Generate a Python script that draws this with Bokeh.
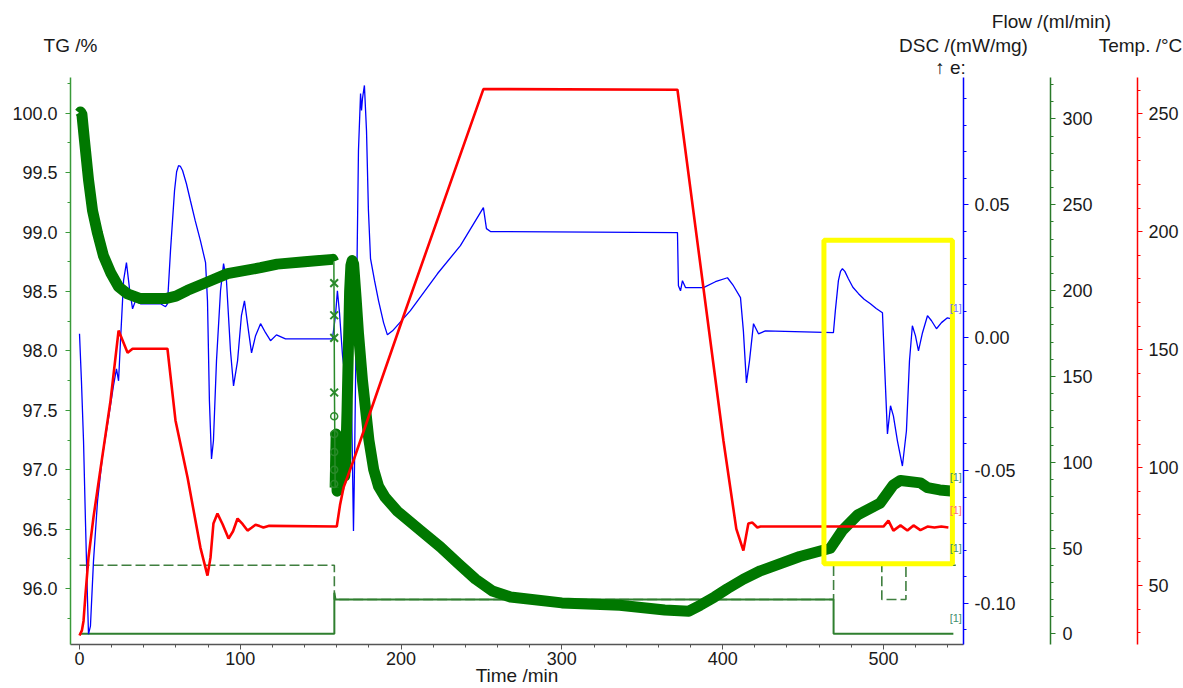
import numpy as np
from bokeh.plotting import figure
from bokeh.layouts import column
from bokeh.models import Range1d, LinearAxis, FixedTicker
from bokeh.core.properties import value
from bokeh.embed import file_html
from bokeh.resources import INLINE

# ---------------- data ----------------
tg_time = [0.0, 0.6, 1.5, 3.1, 5.6, 8.1, 11.2, 14.9, 19.3, 24.3, 29.9, 37.9, 53.5, 60.0,
           67.2, 79.6, 92.0, 112.6, 123.0, 140.0, 157.5, 158.2,
           158.4, 158.6, 159.0,
           159.6, 160.2, 160.8, 161.4, 162.0, 162.6, 163.2, 163.8, 164.4, 165.0, 165.6,
           166.4, 167.2, 168.0, 168.8, 169.6, 170.5, 172.0, 173.5, 176.0, 180.0, 183.0,
           186.0, 190.0, 197.8, 212.0, 224.5, 235.7, 246.3, 256.8, 268.0, 300.0, 336.0,
           364.0, 379.0, 386.0, 395.0, 403.0, 413.0, 423.5, 448.0, 467.0, 474.5, 484.0,
           498.0, 506.0, 510.6, 523.0, 527.4, 535.0, 543.5]
tg_mass = [100.00, 100.01, 99.99, 99.77, 99.44, 99.18, 98.99, 98.80, 98.66, 98.54, 98.48,
           98.44, 98.44, 98.46, 98.51, 98.58, 98.65, 98.70, 98.73, 98.75, 98.77, 98.75,
           98.20, 97.60, 96.85,
           97.30, 96.82, 97.25, 96.85, 97.20, 96.90, 97.10, 96.95, 97.05, 96.95, 97.10,
           97.50, 98.00, 98.50, 98.72, 98.76, 98.73, 98.45, 98.15, 97.75, 97.25, 97.00,
           96.86, 96.77, 96.65, 96.49, 96.35, 96.21, 96.08, 95.98, 95.93, 95.88, 95.86,
           95.82, 95.81, 95.86, 95.93, 96.00, 96.08, 96.15, 96.27, 96.34, 96.49, 96.62,
           96.72, 96.87, 96.91, 96.89, 96.85, 96.83, 96.82]
tg_x_marker_time = [158.4, 158.4, 158.4, 158.4]
tg_x_marker_mass = [98.57, 98.30, 98.11, 97.65]
tg_o_marker_time = [158.4, 158.4, 158.4, 158.4, 158.4]
tg_o_marker_mass = [97.45, 97.30, 97.15, 97.00, 96.88]

dsc_time = [0.0, 1.2, 2.5, 3.7, 5.0, 5.6, 6.8, 8.7, 11.2, 14.3, 18.0, 21.1, 23.0, 24.3,
            25.5, 27.4, 29.2, 31.1, 33.0, 34.8, 37.9, 50.4, 53.5, 54.7, 56.6, 59.1, 60.4,
            61.6, 62.8, 64.1, 66.5, 69.0, 72.0, 75.2, 78.4, 79.6, 80.8, 82.1, 83.3, 85.2,
            87.7, 89.6, 91.4, 93.9, 95.8, 98.3, 100.7, 102.6, 105.1, 107.0, 109.5, 112.6,
            115.7, 118.8, 122.5, 128.1, 157.3, 159.2, 160.4, 161.7, 163.6, 165.4, 167.3,
            169.2, 170.4, 171.0, 172.3, 173.5, 174.8, 175.4, 176.0, 177.2, 178.5, 179.7,
            181.0, 183.5, 186.0, 189.1, 191.5, 194.7, 205.8, 222.6, 236.9, 251.2, 253.1,
            255.6, 371.9, 372.5, 373.8, 375.0, 376.9, 388.1, 395.5, 403.0, 406.7, 411.1,
            412.9, 414.8, 416.7, 419.2, 422.3, 426.6, 468.9, 470.1, 472.0, 473.3, 474.5,
            476.0, 478.2, 481.0, 484.5, 488.0, 491.9, 495.5, 499.4, 500.6, 502.5, 504.4,
            506.2, 508.7, 511.8, 514.3, 516.2, 518.0, 519.9, 521.8, 524.3, 527.4, 529.9,
            533.0, 536.1, 539.8, 541.7]
dsc_val = [0.0015, -0.0162, -0.0388, -0.0690, -0.0992, -0.1116, -0.1086, -0.0841, -0.0615,
           -0.0445, -0.0305, -0.0181, -0.0117, -0.0162, -0.0011, 0.0215, 0.0283, 0.0185,
           0.0109, 0.0139, 0.0128, 0.0128, 0.0117, 0.0128, 0.0328, 0.0554, 0.0625,
           0.0648, 0.0645, 0.0630, 0.0580, 0.0516, 0.0440, 0.0366, 0.0283, 0.0139,
           -0.0238, -0.0456, -0.0388, -0.0087, 0.0177, 0.0279, 0.0215, -0.0049, -0.0181,
           -0.0087, 0.0083, 0.0139, 0.0026, -0.0057, 0.0008, 0.0053, 0.0019, -0.0011,
           0.0011, -0.0004, -0.0004, 0.0083, 0.0177, 0.0094, -0.0068, -0.0155, -0.0124,
           -0.0238, -0.0728, -0.0501, 0.0139, 0.0705, 0.0920, 0.0856, 0.0901, 0.0950,
           0.0780, 0.0479, 0.0298, 0.0215, 0.0139, 0.0057, 0.0011, 0.0026, 0.0102, 0.0241,
           0.0347, 0.0490, 0.0411, 0.0400, 0.0396, 0.0196, 0.0177, 0.0215, 0.0189, 0.0189,
           0.0211, 0.0226, 0.0196, 0.0151, 0.0026, -0.0170, -0.0087, 0.0053, 0.0015,
           0.0026, 0.0019, 0.0102, 0.0215, 0.0250, 0.0260, 0.0250, 0.0222, 0.0190, 0.0166,
           0.0145, 0.0128, 0.0110, 0.0094, -0.0087, -0.0362, -0.0256, -0.0294, -0.0388,
           -0.0483, -0.0351, -0.0087, 0.0045, 0.0008, -0.0049, 0.0019, 0.0083, 0.0064,
           0.0034, 0.0057, 0.0075, 0.0072]

temp_time = [0.0, 1.5, 2.5, 3.7, 5.6, 8.7, 13.1, 19.3, 24.3, 29.9, 33.0, 54.7, 59.7, 67.2,
             75.2, 79.6, 81.5, 83.3, 85.8, 89.0, 92.7, 95.5, 98.3, 101.5, 104.5, 107.0, 109.5,
             112.0, 114.4, 118.0, 160.0, 162.0, 164.2, 170.4, 202.7, 251.2, 371.9, 400.5,
             408.5, 412.9, 416.0, 418.5, 421.6, 423.5, 500.0, 503.1, 506.2, 510.6, 514.9,
             518.7, 523.0, 527.4, 531.7, 536.0, 540.4]
temp_val = [28.8, 31.0, 35.0, 46.0, 62.0, 79.0, 99.6, 128.4, 158.1, 148.7, 150.4, 150.4,
            120.0, 95.8, 66.1, 54.2, 62.0, 76.3, 80.5, 76.0, 69.9, 73.0, 78.4, 76.0, 73.3,
            74.5, 75.8, 75.2, 74.6, 75.3, 75.0, 84.0, 91.5, 103.0, 166.5, 260.5, 260.2,
            111.4, 74.0, 64.8, 76.3, 76.7, 74.6, 75.0, 75.0, 77.5, 73.3, 75.5, 73.3, 75.5,
            73.5, 75.0, 74.6, 75.0, 74.6]

flow1_time = [0.0, 158.5, 158.5, 159.2, 469.0, 469.0, 543.5]
flow1_val = [0.0, 0.0, 24.0, 20.0, 20.0, 0.0, 0.0]
flow2_time = [0.0, 158.5, 158.5, 469.0, 469.0, 499.0, 499.0, 514.0, 514.0, 545.0]
flow2_val = [40.0, 40.0, 20.0, 20.0, 40.0, 40.0, 20.0, 20.0, 40.0, 40.0]

x_ticks = [0, 100, 200, 300, 400, 500]
tg_ticks = [96.0, 96.5, 97.0, 97.5, 98.0, 98.5, 99.0, 99.5, 100.0]
tg_tick_labels = ["96.0", "96.5", "97.0", "97.5", "98.0", "98.5", "99.0", "99.5", "100.0"]
dsc_ticks = [-0.10, -0.05, 0.00, 0.05]
dsc_tick_labels = ["-0.10", "-0.05", "0.00", "0.05"]
flow_ticks = [0, 50, 100, 150, 200, 250, 300]
temp_ticks = [50, 100, 150, 200, 250]

# header titles (text, page x, page y)
header_texts = ["TG /%", "Flow /(ml/min)", "DSC /(mW/mg)", "↑ e:", "Temp. /°C"]
header_px = [70, 1051, 963, 950, 1140]
header_py = [45, 21, 45, 67, 45]

# "[1]" end-of-curve markers (time, TG-scale position)
mark_time = [545.0, 545.0, 545.0, 545.0, 545.0]
mark_tg = [98.36, 96.94, 96.66, 96.34, 95.75]
mark_color = ["#7070ff", "#3f8f6f", "#ff7070", "#3f8f6f", "#3f8f6f"]

# highlight box (time / TG coordinates)
box_time = [463.0, 542.9]
box_tg = [96.21, 98.93]

# ---------------- layout ----------------
W, H = 1183, 688
HEAD = 77
FL, FR, FB = 70, 963, 644
XR = (-5.6, 549.8)
TGR = (95.53, 100.30)
FONT = "Liberation Sans"
LBL = "#1a1a1a"

head = figure(width=W, height=HEAD, x_range=Range1d(0, W), y_range=Range1d(HEAD, 0),
              output_backend="svg", toolbar_location=None, x_axis_type=None,
              y_axis_type=None, min_border=0, outline_line_color=None)
head.xgrid.visible = False
head.ygrid.visible = False
head.text(x=header_px, y=header_py, text=header_texts, text_font=value(FONT),
          text_font_size="19px", text_color=LBL, text_align="center",
          text_baseline="middle")

p = figure(width=W, height=H - HEAD, x_range=Range1d(*XR), y_range=Range1d(*TGR),
           output_backend="svg", toolbar_location=None,
           min_border_left=FL, min_border_right=W - FR, min_border_top=0,
           min_border_bottom=H - FB, background_fill_color="white",
           border_fill_color="white")
for fig in (head, p):
    if "frame_align" in fig.properties():
        fig.frame_align = False
p.xgrid.visible = False
p.ygrid.visible = False
p.outline_line_color = None
p.extra_y_ranges = {"dsc": Range1d(-0.1155, 0.0980),
                    "flow": Range1d(-6.2, 324.1),
                    "temp": Range1d(25.0, 265.4)}


def style(ax, color, ticks, minor, standoff):
    ax.ticker = FixedTicker(ticks=ticks, minor_ticks=minor)
    ax.axis_line_color = color
    ax.axis_line_width = 1.5
    ax.major_tick_line_color = color
    ax.minor_tick_line_color = color
    ax.major_tick_out = 5
    ax.major_tick_in = 0
    ax.minor_tick_out = 3
    ax.minor_tick_in = 0
    ax.major_label_text_font = FONT
    ax.major_label_text_font_size = "18px"
    ax.major_label_text_color = LBL
    ax.major_label_standoff = standoff


xa = p.xaxis[0]
style(xa, "#555555", x_ticks, list(range(0, 560, 20)), 2)
xa.axis_label = "Time /min"
xa.axis_label_text_font = FONT
xa.axis_label_text_font_size = "19px"
xa.axis_label_text_font_style = "normal"
xa.axis_label_text_color = LBL
xa.axis_label_standoff = -3

ya = p.yaxis[0]
style(ya, "#3a9a3a", tg_ticks, [95.75 + 0.25 * i for i in range(19)], 8)
ya.major_label_overrides = {t: s for t, s in zip(tg_ticks, tg_tick_labels)}

ax_dsc = LinearAxis(y_range_name="dsc")
style(ax_dsc, "#0000ff", dsc_ticks, [round(-0.11 + 0.01 * i, 2) for i in range(21)], 6)
ax_dsc.major_label_overrides = {t: s for t, s in zip(dsc_ticks, dsc_tick_labels)}
ax_dsc.axis_label = " "
ax_dsc.axis_label_text_font_size = "12px"
ax_dsc.axis_label_standoff = 15

ax_flow = LinearAxis(y_range_name="flow")
style(ax_flow, "#2a7a2a", flow_ticks, list(range(0, 330, 10)), 7)
ax_flow.axis_label = " "
ax_flow.axis_label_text_font_size = "12px"
ax_flow.axis_label_standoff = 25

ax_temp = LinearAxis(y_range_name="temp")
style(ax_temp, "#ff0000", temp_ticks, list(range(30, 270, 10)), 6)

p.add_layout(ax_dsc, "right")
p.add_layout(ax_flow, "right")
p.add_layout(ax_temp, "right")

# ---------------- glyphs ----------------
p.line(flow2_time, flow2_val, y_range_name="flow", line_color="#3f7f3f",
       line_width=1.6, line_dash="10 4")
p.line(flow1_time, flow1_val, y_range_name="flow", line_color="#2f7f2f", line_width=2)

p.line(dsc_time, dsc_val, y_range_name="dsc", line_color="#0000ff", line_width=1.3)

tt = np.array(tg_time)
tm = np.array(tg_mass)
pre = tt <= 158.2
mid = (tt >= 158.2) & (tt <= 159.0)
post = tt >= 159.0
p.line(tt[pre], tm[pre], line_color="#007800", line_width=11, line_join="round")
p.line(tt[post], tm[post], line_color="#007800", line_width=11, line_join="round")
p.line(tt[mid], tm[mid], line_color="#2a8a2a", line_width=1.5)
p.scatter(tg_x_marker_time, tg_x_marker_mass, marker="x", size=11,
          line_color="#2a8a2a", line_width=2)
p.scatter(tg_o_marker_time, tg_o_marker_mass, marker="circle", size=7,
          line_color="#2a8a2a", fill_color=None, line_width=1.5)

p.line(temp_time, temp_val, y_range_name="temp", line_color="#ff0000", line_width=2.6)

p.quad(left=[box_time[0]], right=[box_time[1]], bottom=[box_tg[0]], top=[box_tg[1]],
       fill_color=None, line_color="#ffff00", line_width=5)

p.text(x=mark_time, y=mark_tg, text=["[1]"] * len(mark_time), text_color=mark_color,
       text_font=value(FONT), text_font_size="11px", text_align="center",
       text_baseline="middle")

layout = column(head, p, spacing=0)
open("out.html", "w").write(file_html(layout, INLINE))
